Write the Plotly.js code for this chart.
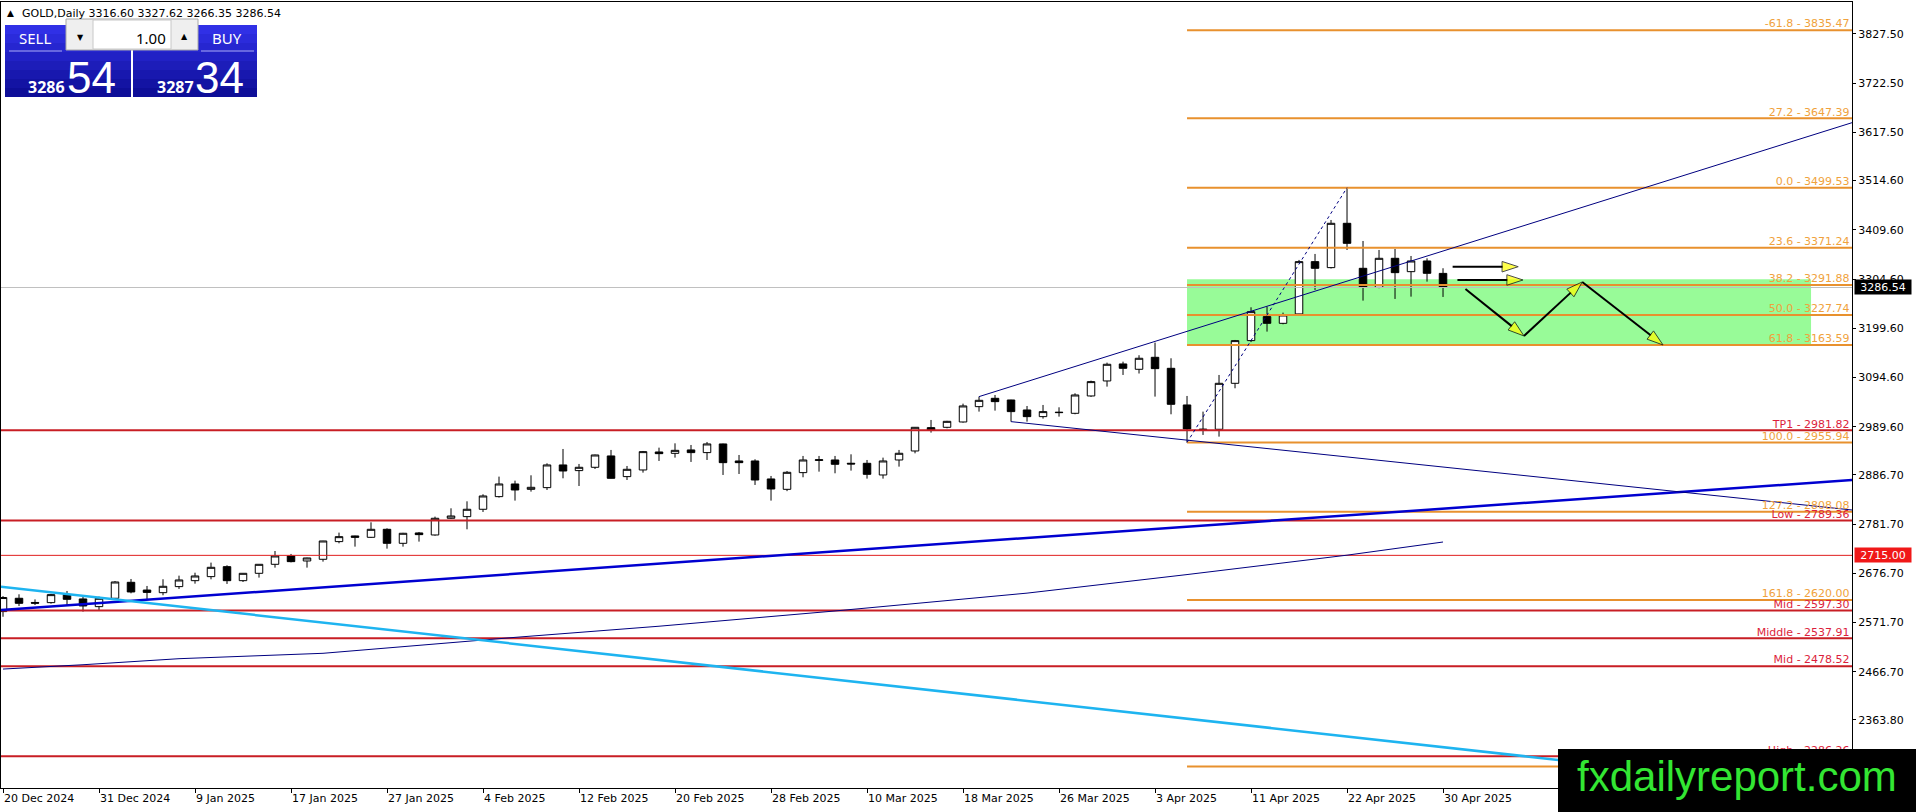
<!DOCTYPE html>
<html><head><meta charset="utf-8">
<script src="https://cdn.plot.ly/plotly-3.0.1.min.js"></script>
<style>html,body{margin:0;padding:0;background:#fff;overflow:hidden}</style>
</head><body><div id="chart" style="width:1916px;height:812px"></div>
<script>
// ---------------- data ----------------
const dates = ['2024-12-20','2024-12-23','2024-12-24','2024-12-26','2024-12-27','2024-12-30','2024-12-31',
 '2025-01-02','2025-01-03','2025-01-06','2025-01-07','2025-01-08','2025-01-09','2025-01-10','2025-01-13','2025-01-14',
 '2025-01-15','2025-01-16','2025-01-17','2025-01-20','2025-01-21','2025-01-22','2025-01-23','2025-01-24','2025-01-27',
 '2025-01-28','2025-01-29','2025-01-30','2025-01-31','2025-02-03','2025-02-04','2025-02-05','2025-02-06','2025-02-07',
 '2025-02-10','2025-02-11','2025-02-12','2025-02-13','2025-02-14','2025-02-17','2025-02-18','2025-02-19','2025-02-20',
 '2025-02-21','2025-02-24','2025-02-25','2025-02-26','2025-02-27','2025-02-28','2025-03-03','2025-03-04','2025-03-05',
 '2025-03-06','2025-03-07','2025-03-10','2025-03-11','2025-03-12','2025-03-13','2025-03-14','2025-03-17','2025-03-18',
 '2025-03-19','2025-03-20','2025-03-21','2025-03-24','2025-03-25','2025-03-26','2025-03-27','2025-03-28','2025-03-31',
 '2025-04-01','2025-04-02','2025-04-03','2025-04-04','2025-04-07','2025-04-08','2025-04-09','2025-04-10','2025-04-11',
 '2025-04-14','2025-04-15','2025-04-16','2025-04-17','2025-04-21','2025-04-22','2025-04-23','2025-04-24','2025-04-25',
 '2025-04-28','2025-04-29','2025-04-30'];
const opens  = [2595,2623.4,2614.5,2614.1,2631.2,2622,2605.6,2623.4,2657.5,2641,2635.4,2648.3,2661,2669.6,2690.9,2661,
 2676.7,2695.9,2713.7,2703,2706.6,2744.3,2756.4,2753.5,2770.6,2740.7,2762.8,2758.5,2794.1,2797.6,2813.3,2840.3,2867.3,
 2855.9,2859.5,2907.9,2895.8,2902.9,2927.1,2883,2897.2,2935.6,2932.7,2939.9,2934.2,2952.7,2916.4,2916.4,2878,2855.9,
 2891.5,2917.5,2918.5,2911.5,2911.4,2886.5,2918.5,2937.7,2987.5,2988.2,2999.6,3032.3,3050.1,3046.5,3025.2,3011,3019.5,
 3018.1,3055.1,3087.1,3123.4,3112,3137.6,3114.1,3035.9,2982,2984,3082.1,3173.2,3224.4,3210.1,3230.1,3341.7,3328.9,
 3423.5,3327.5,3287,3348.8,3320.3,3343.1,3316.60];
const highs  = [2628,2631.9,2621,2633,2639,2627,2627,2660.3,2664.6,2649.7,2664,2671.7,2678,2699.5,2693.8,2677,
 2696,2724.3,2718,2710,2746,2763.5,2757,2785.5,2772.7,2763,2764.9,2797.6,2815.4,2830.3,2845.3,2883,2874.4,
 2885.8,2911.4,2942,2910,2930,2939.9,2905.7,2937.7,2944.8,2954,2950.5,2956.9,2953.5,2929.2,2920,2884.4,2895,
 2927.1,2927.1,2927.1,2930.6,2918.5,2923.5,2939.9,2988.6,3003.9,3002,3038.7,3053.7,3057.2,3047,3033.7,3035.9,3030.9,
 3060.8,3087.8,3126.2,3128.3,3142,3168.9,3135.5,3055.1,3021.7,3099.9,3174.6,3244.3,3245.7,3232.9,3345.3,3358.1,3430.6,
 3499.53,3385.8,3366.6,3368.7,3353.8,3348.8,3327.62];
const lows   = [2584,2607,2609,2612,2609,2595,2598.5,2620,2634,2619.8,2629.8,2643.3,2654.6,2663.9,2654,2658.2,
 2667.5,2688.8,2700,2688.8,2701.6,2740.7,2733.6,2752,2729.3,2733.6,2744.3,2757,2793,2770.6,2807.6,2838.2,2831.8,
 2851,2854.5,2879.4,2863,2899.3,2879,2875.8,2891.5,2916.4,2923.5,2914.3,2918.5,2886.5,2888.6,2865.2,2831.8,2852,
 2881.6,2893.6,2890.1,2895.8,2878.7,2878.7,2904.3,2932.7,2976.9,2986.1,2998.2,3021.7,3023.8,3000.3,3000.3,3006.7,3011,
 3016,3053,3075,3099.9,3103,3053.7,3016,2955.94,2971.9,2968.3,3071.5,3170,3192.4,3208,3228,3281.3,3327,
 3366.6,3258.5,3285,3262.1,3267,3299,3266.35];
const closes = [2625,2612.7,2613,2631.2,2621.2,2607,2623.4,2658.2,2636.9,2636,2649,2662.5,2671,2689.5,2661,2676.7,
 2695.9,2713.7,2701.6,2709.4,2745.7,2754.9,2753.5,2770.6,2740.7,2762.1,2759.2,2794.1,2799,2813.3,2841.7,2867.3,2854.5,
 2860.2,2907.9,2895,2902.9,2929.2,2879.4,2898.6,2936.3,2932,2939.1,2934.2,2952.7,2912.8,2912.8,2875.8,2856.6,2892.2,
 2918.5,2919,2909.3,2910,2887.9,2916.4,2932.8,2988.2,2982.5,3001,3033.8,3045.8,3043,3021.7,3011,3021.7,3020.2,
 3057.2,3085.7,3122.7,3114.1,3135.5,3113.4,3037.3,2984.7,2984,3082.1,3173.2,3235,3210.1,3227.9,3341.7,3327.5,3423.5,
 3380.8,3287,3348.8,3318.2,3343.1,3316.8,3286.54];

const tickBars   = [0,6,12,18,24,30,36,42,48,54,60,66,72,78,84,90];
const tickLabels = ['20 Dec 2024','31 Dec 2024','9 Jan 2025','17 Jan 2025','27 Jan 2025','4 Feb 2025','12 Feb 2025',
 '20 Feb 2025','28 Feb 2025','10 Mar 2025','18 Mar 2025','26 Mar 2025','3 Apr 2025','11 Apr 2025','22 Apr 2025','30 Apr 2025'];
const priceTicks = [3827.50,3722.50,3617.50,3514.60,3409.60,3304.60,3199.60,3094.60,2989.60,2886.70,2781.70,
 2676.70,2571.70,2466.70,2363.80];

// Fibonacci levels (drawn from the 7 Apr bar to the right)
const fibLevels = [3835.47,3647.39,3499.53,3371.24,3291.88,3227.74,3163.59,2955.94,2808.08,2620.00,2264.49];
const fibLabels = ['-61.8 - 3835.47','27.2 - 3647.39','0.0 - 3499.53','23.6 - 3371.24','38.2 - 3291.88',
 '50.0 - 3227.74','61.8 - 3163.59','100.0 - 2955.94','127.2 - 2808.08','161.8 - 2620.00','227.2 - 2264.49'];
const fibStartBar = 74;
// Support / resistance levels (full width)
const srLevels = [2981.82,2789.36,2597.30,2537.91,2478.52,2286.26];
const srLabels = ['TP1 - 2981.82','Low - 2789.36','Mid - 2597.30','Middle - 2537.91','Mid - 2478.52','High - 2286.26'];
const alertLevel = 2715.00;
const bidPrice = 3286.54;
const askPrice = 3287.34;

// zone box
const zoneBars = [74,113];
const zonePrices = [3163.59,3304.1];

// moving average (read points)
const maBars   = [0,5,11,20,32,41,52,64,74,84,90];
const maValues = [2472.4,2481.6,2494.5,2506,2540,2563.8,2596.3,2634.4,2674,2715.4,2743.5];

// trend lines: [bar, price] end points
const xLeft = -0.125, xRight = 115.56;
const upTrendBars   = [61, xRight],  upTrendPrices   = [3053.7, 3638.2];
const downTrendBars = [63, xRight],  downTrendPrices = [3000.3, 2811.8];
const blueTrendBars = [xLeft, xRight], blueTrendPrices = [2598.6, 2875.8];
const cyanTrendBars = [xLeft, xRight], cyanTrendPrices = [2648.0, 2208.7];
const fibLineBars = [74, 84], fibLinePrices = [2955.94, 3499.53];

// forecast arrows
const arrowA = {bars:[90.6,94.7], prices:[3330.9,3330.9]};
const arrowB = {bars:[90.9,95.0], prices:[3302.6,3302.6]};
const zigBars   = [91.4,95.06,98.7,103.75];
const zigPrices = [3283.4,3183.1,3298.3,3163.9];

const yRange = [2218.6, 3895.7];

// ---------------- build ----------------
const barIdx = dates.map((d,i)=>i);
const ORANGE='#E8912E', ORANGE_T='#F0A23C', RED='#C81E24', RED_T='#DC1E3C', NAVY='#000080';
const FONT='DejaVu Sans';
const traces = [];

// bid line (behind candles)
traces.push({type:'scatter',mode:'lines',x:[xLeft,xRight],y:[bidPrice,bidPrice],line:{color:'#C0C0C0',width:1},hoverinfo:'skip'});

traces.push({type:'candlestick',x:barIdx,open:opens,high:highs,low:lows,close:closes,
  increasing:{line:{color:'#000',width:1},fillcolor:'#FFFFFF'},
  decreasing:{line:{color:'#000',width:1},fillcolor:'#000000'},
  whiskerwidth:0,hoverinfo:'skip'});

// horizontal levels
srLevels.forEach(p=>traces.push({type:'scatter',mode:'lines',x:[xLeft,xRight],y:[p,p],line:{color:RED,width:2},hoverinfo:'skip'}));
traces.push({type:'scatter',mode:'lines',x:[xLeft,xRight],y:[alertLevel,alertLevel],line:{color:'#E01E1E',width:1},hoverinfo:'skip'});
fibLevels.forEach(p=>traces.push({type:'scatter',mode:'lines',x:[fibStartBar,xRight],y:[p,p],line:{color:ORANGE,width:2},hoverinfo:'skip'}));

// trend lines
traces.push({type:'scatter',mode:'lines',x:maBars,y:maValues,line:{color:NAVY,width:1},hoverinfo:'skip'});
traces.push({type:'scatter',mode:'lines',x:blueTrendBars,y:blueTrendPrices,line:{color:'#0000D0',width:2.5},hoverinfo:'skip'});
traces.push({type:'scatter',mode:'lines',x:cyanTrendBars,y:cyanTrendPrices,line:{color:'#1EB4F0',width:2.5},hoverinfo:'skip'});
traces.push({type:'scatter',mode:'lines',x:upTrendBars,y:upTrendPrices,line:{color:NAVY,width:1},hoverinfo:'skip'});
traces.push({type:'scatter',mode:'lines',x:downTrendBars,y:downTrendPrices,line:{color:NAVY,width:1},hoverinfo:'skip'});
traces.push({type:'scatter',mode:'lines',x:fibLineBars,y:fibLinePrices,line:{color:NAVY,width:1,dash:'dot'},hoverinfo:'skip'});

// level labels
const labelX = xRight - 0.15;
traces.push({type:'scatter',mode:'text',x:fibLevels.map(()=>labelX),y:fibLevels,text:fibLabels,textposition:'top left',
  textfont:{family:FONT,size:11,color:ORANGE_T},hoverinfo:'skip'});
traces.push({type:'scatter',mode:'text',x:srLevels.map(()=>labelX),y:srLevels,text:srLabels,textposition:'top left',
  textfont:{family:FONT,size:11,color:RED_T},hoverinfo:'skip'});

// arrows
function arrowTrace(bx,py){
  return {type:'scatter',mode:'lines+markers',x:bx,y:py,line:{color:'#000',width:2},
    marker:{symbol:['circle','arrow'],size:[0,17],color:'#FFFF00',line:{color:'#000',width:1},angleref:'previous'},hoverinfo:'skip'};
}
traces.push(arrowTrace(arrowA.bars,arrowA.prices));
traces.push(arrowTrace(arrowB.bars,arrowB.prices));
for(let i=0;i<zigBars.length-1;i++) traces.push(arrowTrace([zigBars[i],zigBars[i+1]],[zigPrices[i],zigPrices[i+1]]));

// ---------------- layout helpers ----------------
const W=1916,H=812,L=1,T=2,R=1852,B=788;
const fx = x => (x-L)/(R-L);
const fy = y => (B-y)/(B-T);
const shapes = [];
const annotations = [];
function rect(x0,y0,x1,y1,fill,line,layer){
  shapes.push({type:'rect',xref:'paper',yref:'paper',x0:fx(x0),x1:fx(x1),y0:fy(y0),y1:fy(y1),
    fillcolor:fill,line:line||{width:0},layer:layer||'above'});
}
function hline(x0,x1,y,color){
  shapes.push({type:'line',xref:'paper',yref:'paper',x0:fx(x0),x1:fx(x1),y0:fy(y),y1:fy(y),line:{color:color,width:1},layer:'above'});
}
function txt(text,x,y,o){
  o=o||{};
  annotations.push(Object.assign({text:text,xref:'paper',yref:'paper',x:fx(x),y:fy(y),showarrow:false,
    xanchor:o.xa||'left',yanchor:'middle',font:{family:o.family||FONT,size:o.size||11,color:o.color||'#000'},borderpad:0},o.extra||{}));
}

// zone rectangle (data coords, behind candles)
shapes.push({type:'rect',xref:'x',yref:'y',x0:zoneBars[0],x1:zoneBars[1],y0:zonePrices[0],y1:zonePrices[1],
  fillcolor:'#98FB98',line:{width:0},layer:'below'});

// header
txt('▲',6,13,{size:9});
txt('GOLD,Daily '+[opens[90],highs[90],lows[90],closes[90]].map(v=>v.toFixed(2)).join(' '),21,13);

// trade panel
const bands=8;
for(let b=0;b<bands;b++){
  const t=b/(bands-1);
  const c=`rgb(${Math.round(48-34*t)},${Math.round(48-34*t)},${Math.round(230-78*t)})`;
  const y0=25+b*9,y1=25+(b+1)*9;
  rect(5,y0,131,y1,c); rect(133,y0,257,y1,c);
}
rect(66,19,198,50,'#EFEFEF',{color:'#A8A8A8',width:1});
rect(93,20,171,49,'#FFFFFF',{color:'#C8C8C8',width:1});
hline(9,62,51,'#A8A8F0'); hline(201,254,51,'#A8A8F0');
txt('SELL',35,38.5,{xa:'center',family:'Noto Sans',size:15,color:'#FFFFFF'});
txt('BUY',227,38.5,{xa:'center',family:'Noto Sans',size:15,color:'#FFFFFF'});
txt('1.00',167,38,{xa:'right',family:'Noto Sans',size:15});
txt('▼',80,38,{xa:'center',size:8});
txt('▲',184,37,{xa:'center',size:8});
const bidStr=bidPrice.toFixed(2).split('.'), askStr=askPrice.toFixed(2).split('.');
txt('<b>'+bidStr[0]+'</b>',27,87,{family:'Noto Sans',size:16,color:'#FFFFFF'});
txt(bidStr[1],66,77,{family:'Liberation Sans Narrow, Liberation Sans',size:44,color:'#FFFFFF'});
txt('<b>'+askStr[0]+'</b>',156,87,{family:'Noto Sans',size:16,color:'#FFFFFF'});
txt(askStr[1],194,77,{family:'Liberation Sans Narrow, Liberation Sans',size:44,color:'#FFFFFF'});

// price boxes on the axis
annotations.push({text:bidPrice.toFixed(2),xref:'paper',yref:'y',x:fx(1854),y:bidPrice,xanchor:'left',yanchor:'middle',
  showarrow:false,bgcolor:'#000',font:{family:FONT,size:11,color:'#fff'},width:54,height:12,borderpad:1});
annotations.push({text:alertLevel.toFixed(2),xref:'paper',yref:'y',x:fx(1854),y:alertLevel,xanchor:'left',yanchor:'middle',
  showarrow:false,bgcolor:'#F01818',font:{family:FONT,size:11,color:'#fff'},width:54,height:12,borderpad:1});

// watermark
rect(1558,749,1916,812,'#000000');
txt('fxdailyreport.com',1737,776,{xa:'center',family:'Liberation Sans',size:42,color:'#33E633'});

const layout = {
  width:W,height:H,margin:{l:L,r:W-R,t:T,b:H-B,pad:0},
  paper_bgcolor:'#fff',plot_bgcolor:'#fff',showlegend:false,hovermode:false,dragmode:false,
  font:{family:FONT,size:11,color:'#000'},
  boxgap:0.33,
  xaxis:{range:[xLeft,xRight],showgrid:false,zeroline:false,showline:true,mirror:true,linecolor:'#000',linewidth:1,
    ticks:'outside',ticklen:4,tickcolor:'#000',tickvals:tickBars,ticktext:tickLabels,ticklabelposition:'outside right',
    rangeslider:{visible:false},fixedrange:true,tickfont:{family:FONT,size:11}},
  yaxis:{range:yRange,side:'right',showgrid:false,zeroline:false,showline:true,mirror:true,linecolor:'#000',linewidth:1,
    ticks:'outside',ticklen:3,tickcolor:'#000',tickvals:priceTicks,ticktext:priceTicks.map(v=>v.toFixed(2)),
    fixedrange:true,tickfont:{family:FONT,size:11}},
  shapes:shapes,annotations:annotations
};
Plotly.newPlot('chart',traces,layout,{staticPlot:true,displayModeBar:false});
</script></body></html>
